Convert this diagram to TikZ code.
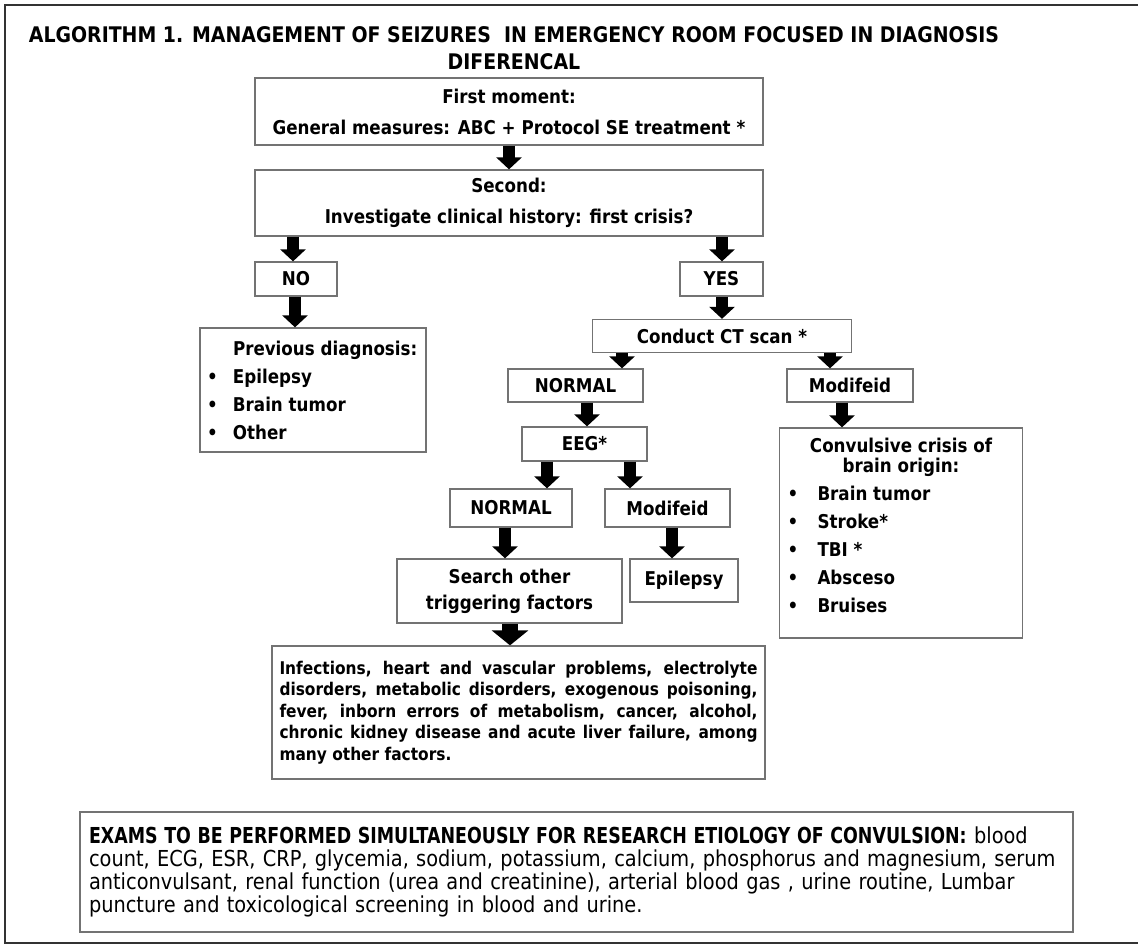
\documentclass[tikz,border=0pt]{standalone}
\usepackage{fontspec}
\usepackage{graphicx}
\setmainfont{DejaVu Sans}[FakeStretch=0.88]
\usetikzlibrary{arrows.meta}

\tikzset{
  box/.style 2 args={draw=black!55, line width=1.3pt, minimum width=#1pt, minimum height=#2pt,
    inner sep=0pt, align=center, font=\fontsize{19}{31}\selectfont\bfseries},
  blk/.style={line width=12pt, -{Triangle[width=25pt,length=12pt]}},
  bigblk/.style={line width=16pt, -{Triangle[width=36pt,length=15pt]}},
}
\newcommand{\prevhead}[1]{\makebox[212pt][l]{\hspace*{26pt}#1}}
\newcommand{\previtem}[1]{\makebox[212pt][l]{\makebox[26pt][l]{•}#1}}
\newcommand{\convitem}[1]{\makebox[227pt][l]{\makebox[30pt][l]{•}#1}}

\begin{document}
\begin{tikzpicture}[x=1pt,y=-1pt]
  \useasboundingbox (0,0) rectangle (1138,946);
  \draw[line width=1.5pt, black!80] (5,5) rectangle (1150,943);

  % title
  \node[align=center, font=\fontsize{21.5}{27}\selectfont\bfseries] (title) at (514,48)
    {ALGORITHM 1. MANAGEMENT OF SEIZURES\ \ IN EMERGENCY ROOM FOCUSED IN DIAGNOSIS\\DIFERENCAL};

  % boxes
  \node[box={508}{67}] (first) at (509,111.5) {First moment:\\General measures: ABC + Protocol SE treatment *};
  \node[box={508}{66}] (second) at (509,203) {Second:\\Investigate clinical history: first crisis?};
  \node[box={82}{34}] (no) at (296,279) {NO};
  \node[box={83}{34}] (yes) at (721.5,279) {YES};
  \node[box={226}{124}, font=\fontsize{19}{28}\selectfont\bfseries] (prev) at (313,390)
    {\prevhead{Previous diagnosis:}\\\previtem{Epilepsy}\\\previtem{Brain tumor}\\\previtem{Other}};
  \node[box={259}{33}] (ct) at (722,336) {Conduct CT scan *};
  \node[box={135}{33}] (normal1) at (575.5,385.5) {NORMAL};
  \node[box={126}{33}] (mod1) at (850,385.5) {Modifeid};
  \node[box={125}{34}] (eeg) at (584.5,444) {EEG*};
  \node[box={122}{38}] (normal2) at (511,508) {NORMAL};
  \node[box={125}{38}] (mod2) at (667.5,508) {Modifeid};
  \node[box={225}{64}, font=\fontsize{19}{26}\selectfont\bfseries] (search) at (509.5,591) {Search other\\triggering factors};
  \node[box={108}{43}] (epi) at (684,580.5) {Epilepsy};
  \node[box={243}{210}, text depth=15pt, font=\fontsize{19}{28}\selectfont\bfseries] (conv) at (901,533)
    {Convulsive crisis of\\[-8pt]brain origin:\\\convitem{Brain tumor}\\\convitem{Stroke*}\\\convitem{TBI *}\\\convitem{Absceso}\\\convitem{Bruises}};
  \node[box={493}{133}, text width=478pt, align=justify, font=\fontsize{17.5}{21.5}\selectfont\bfseries] (infect) at (518.5,712.5)
    {Infections, heart and vascular problems, electrolyte\linebreak
     disorders, metabolic disorders, exogenous poisoning,\linebreak
     fever, inborn errors of metabolism, cancer, alcohol,\linebreak
     chronic kidney disease and acute liver failure, among\linebreak
     many other factors.};
  \node[box={993}{120}, text width=975pt, align=left, font=\fontsize{22}{23}\selectfont] (exams) at (576.5,872)
    {\scalebox{0.9}[1]{\textbf{EXAMS TO BE PERFORMED SIMULTANEOUSLY FOR RESEARCH ETIOLOGY OF CONVULSION:}} blood\\
     count, ECG, ESR, CRP, glycemia, sodium, potassium, calcium, phosphorus and magnesium, serum\\
     anticonvulsant, renal function (urea and creatinine), arterial blood gas , urine routine, Lumbar\\
     puncture and toxicological screening in blood and urine.};

  % arrows
  \draw[blk] (first.south) -- (second.north);
  \draw[blk] (second.south -| 293,0) -- (no.north -| 293,0);
  \draw[blk] (second.south -| 722,0) -- (yes.north -| 722,0);
  \draw[blk] (no.south -| 295,0) -- (prev.north -| 295,0);
  \draw[blk] (yes.south -| 722,0) -- (ct.north -| 722,0);
  \draw[blk] (ct.south -| 622,0) -- (normal1.north -| 622,0);
  \draw[blk] (ct.south -| 830,0) -- (mod1.north -| 830,0);
  \draw[blk] (normal1.south -| 587,0) -- (eeg.north -| 587,0);
  \draw[blk] (mod1.south -| 842,0) -- (conv.north -| 842,0);
  \draw[blk] (eeg.south -| 547,0) -- (normal2.north -| 547,0);
  \draw[blk] (eeg.south -| 630,0) -- (mod2.north -| 630,0);
  \draw[blk] (normal2.south -| 505,0) -- (search.north -| 505,0);
  \draw[blk] (mod2.south -| 672,0) -- (epi.north -| 672,0);
  \draw[bigblk] (search.south -| 510,0) -- (infect.north -| 510,0);
\end{tikzpicture}
\end{document}
